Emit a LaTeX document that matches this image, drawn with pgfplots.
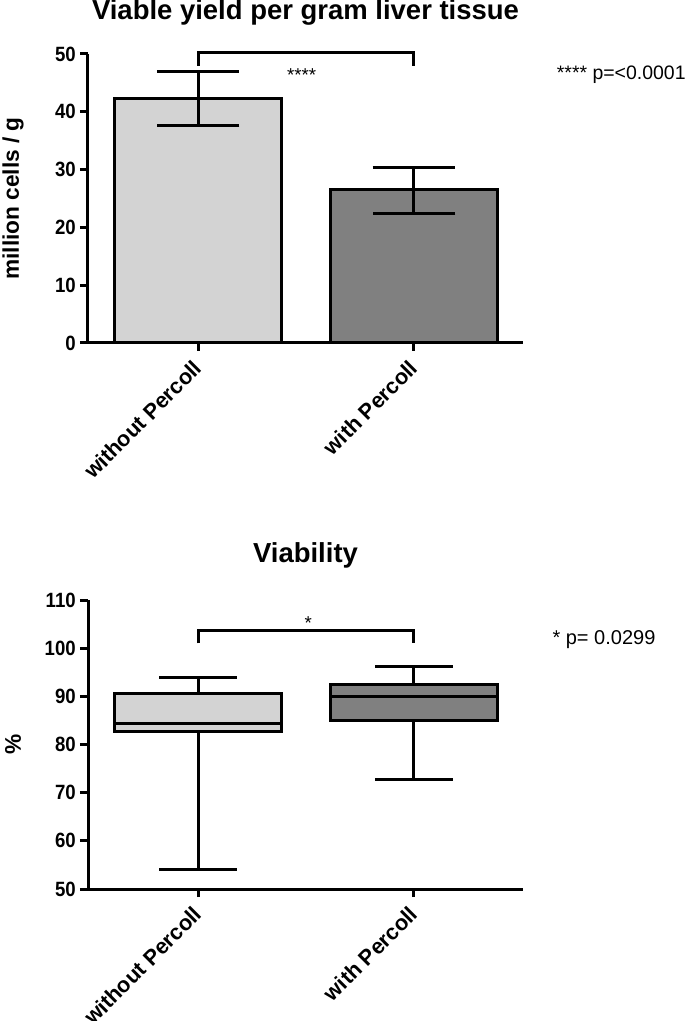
\documentclass[border=0pt]{standalone}
\usepackage{fontspec}
\setmainfont{Liberation Sans}
\usepackage{pgfplots}
\pgfplotsset{compat=1.18}
\definecolor{lightbar}{RGB}{211,211,211}
\definecolor{darkbar}{RGB}{128,128,128}
\pgfplotsset{
 prism/.style={
  scale only axis, width=326.25pt, height=216.75pt,
  axis x line=bottom, axis y line=left,
  axis line style={-, line width=2.25pt},
  xmin=-0.51, xmax=1.505,
  xtick={0,1}, xticklabels={without Percoll,with Percoll},
  xticklabel style={yshift=-7.5pt, xshift=2.25pt, rotate=45, anchor=east, font=\fontsize{16.3}{19}\selectfont\bfseries},
  yticklabel style={font=\fontsize{15.5}{18}\selectfont\bfseries, xscale=0.9},
  /pgf/number format/assume math mode=true,
  tick style={line width=2.25pt, black},
  major tick length=6pt, tick align=outside,
  minor tick num=0,
  clip=false,
  ylabel style={at={(axis description cs:-0.172,0.5)}, anchor=center, font=\fontsize{17}{20}\selectfont\bfseries},
 }
}
\begin{document}
\begin{tikzpicture}
\useasboundingbox (0,0) rectangle (513.75pt,765.75pt);
% ---------- top: bar chart ----------
\begin{axis}[prism, at={(66pt,508.5pt)}, anchor=south west,
  ymin=0, ymax=50, ytick={0,10,20,30,40,50},
  title={Viable yield per gram liver tissue},
  every axis title/.style={at={(axis description cs:0.5,1.118)}, anchor=base, font=\fontsize{20.6}{24}\selectfont\bfseries},
  ylabel={million cells / g}]
\addplot[ybar, bar width=125.25pt, bar shift=0pt, fill=lightbar, draw=black, line width=2.25pt,
  error bars/.cd, y dir=both, y explicit,
  error bar style={line width=2.25pt, black},
  error mark options={rotate=90, mark size=31pt, line width=2.25pt, black}]
  coordinates {(0,42.3) +- (0,4.6)};
\addplot[ybar, bar width=125.25pt, bar shift=0pt, fill=darkbar, draw=black, line width=2.25pt,
  error bars/.cd, y dir=both, y explicit,
  error bar style={line width=2.25pt, black},
  error mark options={rotate=90, mark size=31pt, line width=2.25pt, black}]
  coordinates {(1,26.5) += (0,3.9) -= (0,4.1)};
\draw[line width=2.25pt] (axis cs:0,48.0) -- (axis cs:0,50.3) -- (axis cs:1,50.3) -- (axis cs:1,48.0);
\node[font=\fontsize{14}{17}\selectfont] at (axis cs:0.48,46.3) {****};
\node[anchor=west, font=\fontsize{14.6}{17}\selectfont] at (axis cs:1.64,46.4) {**** p=<0.0001};
\end{axis}
% ---------- bottom: box plot ----------
\begin{axis}[prism, at={(66pt,99pt)}, anchor=south west,
  ymin=50, ymax=110, ytick={50,60,70,80,90,100,110},
  title={Viability},
  every axis title/.style={at={(axis description cs:0.5,1.131)}, anchor=base, font=\fontsize{20.6}{24}\selectfont\bfseries},
  ylabel={\%}]
% without Percoll: box (Q1..Q3), median, whiskers
\addplot[fill=lightbar, draw=black, line width=2.25pt, line join=miter]
  coordinates {(-0.3865,82.6) (0.3865,82.6) (0.3865,90.5) (-0.3865,90.5)} -- cycle;
\addplot[black, line width=2.25pt] coordinates {(-0.3865,84.3) (0.3865,84.3)};
\addplot[black, line width=2.25pt] coordinates {(0,90.5) (0,94.0)};
\addplot[black, line width=2.25pt] coordinates {(-0.18,94.0) (0.18,94.0)};
\addplot[black, line width=2.25pt] coordinates {(0,82.6) (0,54.1)};
\addplot[black, line width=2.25pt] coordinates {(-0.18,54.1) (0.18,54.1)};
% with Percoll
\addplot[fill=darkbar, draw=black, line width=2.25pt, line join=miter]
  coordinates {(0.6135,85.0) (1.3865,85.0) (1.3865,92.5) (0.6135,92.5)} -- cycle;
\addplot[black, line width=2.25pt] coordinates {(0.6135,89.9) (1.3865,89.9)};
\addplot[black, line width=2.25pt] coordinates {(1,92.5) (1,96.1)};
\addplot[black, line width=2.25pt] coordinates {(0.82,96.1) (1.18,96.1)};
\addplot[black, line width=2.25pt] coordinates {(1,85.0) (1,72.7)};
\addplot[black, line width=2.25pt] coordinates {(0.82,72.7) (1.18,72.7)};
\draw[line width=2.25pt] (axis cs:0,101.0) -- (axis cs:0,103.7) -- (axis cs:1,103.7) -- (axis cs:1,101.0);
\node[font=\fontsize{14}{17}\selectfont] at (axis cs:0.51,105.2) {*};
\node[anchor=west, font=\fontsize{15}{18}\selectfont] at (axis cs:1.62,101.7) {* p= 0.0299};
\end{axis}
\end{tikzpicture}
\end{document}
